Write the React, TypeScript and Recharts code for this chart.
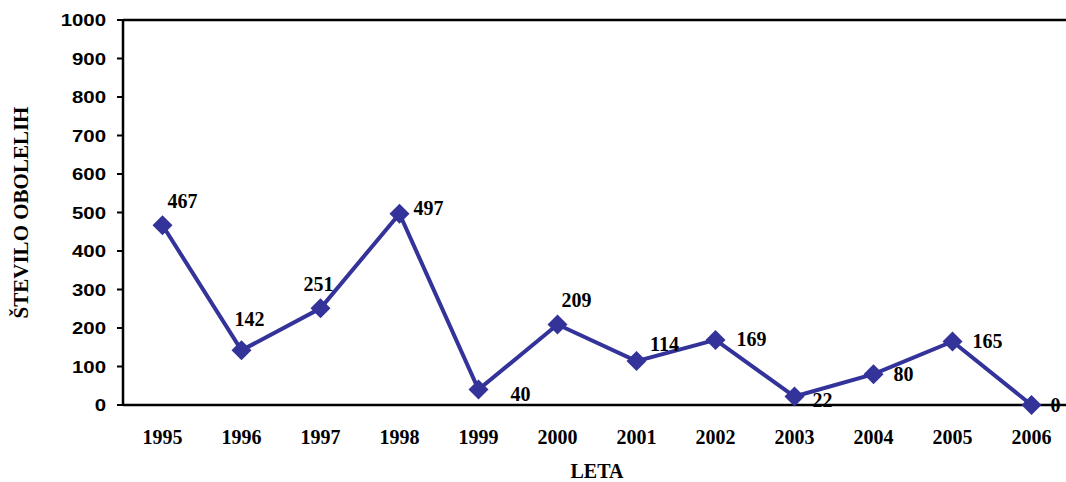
import { LabelList, Line, LineChart, ReferenceLine, XAxis, YAxis } from "recharts";

const years = [
  "1995", "1996", "1997", "1998", "1999", "2000",
  "2001", "2002", "2003", "2004", "2005", "2006",
];
const cases = [467, 142, 251, 497, 40, 209, 114, 169, 22, 80, 165, 0];
const yTicks = [0, 100, 200, 300, 400, 500, 600, 700, 800, 900, 1000];
// band edges on a 0..12 scale, used only for the x tick marks between years
const bandEdges = [0, 1, 2, 3, 4, 5, 6, 7, 8, 9, 10, 11, 12];

// where each value label sits relative to its marker
const labelOffsets: [number, number][] = [
  [20, -24], [8, -31], [-2, -24], [29, -6], [42, 4], [19, -25],
  [28, -17], [36, -1], [28, 3], [30, 0], [35, 0], [24, 0],
];

const data = years.map((year, i) => ({ year, cases: cases[i] }));

const NAVY = "#333399";
const SERIF = "'Liberation Serif', 'Times New Roman', serif";
const SANS = "'Liberation Sans', Arial, sans-serif";

const Diamond = (props: any) => {
  const { cx, cy, index } = props;
  if (cx == null || cy == null) return null;
  const r = 10;
  return (
    <polygon
      key={`d-${index}`}
      points={`${cx},${cy - r} ${cx + r},${cy} ${cx},${cy + r} ${cx - r},${cy}`}
      fill={NAVY}
    />
  );
};

const ValueLabel = (props: any) => {
  const { x, y, value, index } = props;
  const [dx, dy] = labelOffsets[index] ?? [0, -20];
  return (
    <text
      x={x + dx}
      y={y + dy}
      dy="0.35em"
      textAnchor="middle"
      fontFamily={SERIF}
      fontWeight="bold"
      fontSize={20}
      fill="#000"
    >
      {value}
    </text>
  );
};

const YTick = (props: any) => {
  const { x, y, payload } = props;
  return (
    <g transform={`translate(${x},${y}) scale(1.2,1)`}>
      <text
        x={0}
        y={0}
        dy="0.36em"
        textAnchor="end"
        fontFamily={SANS}
        fontWeight="bold"
        fontSize={17}
        fill="#000"
      >
        {payload.value}
      </text>
    </g>
  );
};

export default function App() {
  return (
    <div
      style={{
        position: "fixed",
        left: 0,
        top: 0,
        width: 1066,
        height: 482,
        overflow: "hidden",
        background: "#fff",
      }}
    >
      <LineChart
        width={1080}
        height={482}
        data={data}
        margin={{ top: 20, right: 9, bottom: 0, left: 0 }}
      >
        <XAxis
          xAxisId="edges"
          type="number"
          domain={[0, 12]}
          ticks={bandEdges}
          allowDataOverflow
          height={0}
          axisLine={false}
          tick={false}
          tickSize={6}
          tickLine={{ stroke: "#000", strokeWidth: 2 }}
        />
        <XAxis
          dataKey="year"
          scale="band"
          interval={0}
          height={77}
          axisLine={{ stroke: "#000", strokeWidth: 2.5 }}
          tickLine={false}
          tickSize={0}
          tickMargin={25}
          tick={{ fill: "#000", fontFamily: SERIF, fontWeight: "bold", fontSize: 20 }}
          label={{
            content: (p: any) => {
              const vb = p.viewBox;
              return (
                <text
                  x={vb.x + vb.width / 2}
                  y={478}
                  textAnchor="middle"
                  fontFamily={SERIF}
                  fontWeight="bold"
                  fontSize={20}
                  fill="#000"
                >
                  LETA
                </text>
              );
            },
          }}
        />
        <YAxis
          width={123}
          domain={[0, 1000]}
          ticks={yTicks}
          interval={0}
          axisLine={{ stroke: "#000", strokeWidth: 2.5 }}
          tickLine={{ stroke: "#000", strokeWidth: 2 }}
          tickSize={6}
          tickMargin={11}
          tick={<YTick />}
          label={{
            content: (p: any) => {
              const vb = p.viewBox;
              const cx = 21;
              const cy = vb.y + vb.height / 2;
              return (
                <text
                  x={cx}
                  y={cy}
                  transform={`rotate(-90 ${cx} ${cy})`}
                  dy="0.35em"
                  textAnchor="middle"
                  fontFamily={SERIF}
                  fontWeight="bold"
                  fontSize={21}
                  fill="#000"
                >
                  ŠTEVILO OBOLELIH
                </text>
              );
            },
          }}
        />
        <ReferenceLine y={1000} stroke="#000" strokeWidth={2.5} />
        <Line
          type="linear"
          dataKey="cases"
          stroke={NAVY}
          strokeWidth={4}
          dot={Diamond}
          activeDot={false}
          isAnimationActive={false}
        >
          <LabelList dataKey="cases" content={ValueLabel} />
        </Line>
      </LineChart>
    </div>
  );
}
